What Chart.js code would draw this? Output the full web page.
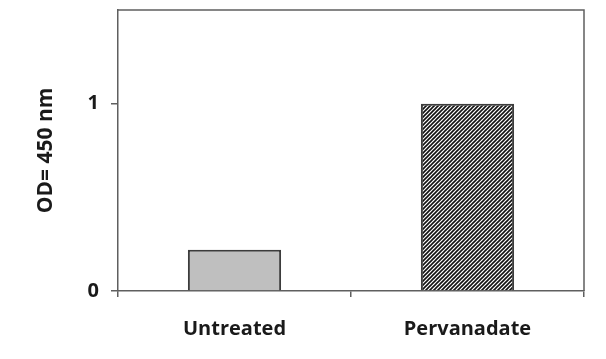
<!DOCTYPE html>
<html>
<head>
<meta charset="utf-8">
<script src="https://cdn.jsdelivr.net/npm/chart.js@4/dist/chart.umd.min.js"></script>
<style>
  html, body { margin: 0; padding: 0; background: #ffffff; }
  #wrap { width: 606px; height: 359px; position: relative; }
</style>
</head>
<body>
<div id="wrap"><canvas id="c" width="606" height="359"></canvas></div>
<script>
const categories = ["Untreated", "Pervanadate"];
const odValues = [0.22, 1.0];
const yTickValues = [0, 1];
const yAxisTitle = "OD= 450 nm";

function makeHatch() {
  const p = document.createElement('canvas');
  p.width = 4; p.height = 4;
  const g = p.getContext('2d');
  g.fillStyle = '#ffffff';
  g.fillRect(0, 0, 4, 4);
  g.strokeStyle = '#111111';
  g.lineWidth = 1.6;
  g.beginPath();
  g.moveTo(0, 4); g.lineTo(4, 0);
  g.moveTo(-1, 1); g.lineTo(1, -1);
  g.moveTo(3, 5); g.lineTo(5, 3);
  g.stroke();
  return document.getElementById('c').getContext('2d').createPattern(p, 'repeat');
}
const hatch = makeHatch();

const frame = {
  id: 'frame',
  afterDraw(chart) {
    const {ctx, chartArea: a} = chart;
    ctx.save();
    ctx.strokeStyle = '#5f5f5f';
    ctx.lineWidth = 1.5;
    ctx.beginPath();
    ctx.moveTo(a.left, a.top);
    ctx.lineTo(a.right, a.top);
    ctx.lineTo(a.right, a.bottom);
    ctx.stroke();
    ctx.restore();
  }
};

const font = { family: "'Open Sans', sans-serif", weight: 'bold', size: 20 };
const titleFont = { family: "'Open Sans', sans-serif", weight: 'bold', size: 21 };

new Chart(document.getElementById('c'), {
  type: 'bar',
  data: {
    labels: categories,
    datasets: [{
      data: odValues,
      backgroundColor: ['#bfbfbf', hatch],
      borderColor: '#3c3c3c',
      borderWidth: 2,
      borderSkipped: 'bottom',
      barPercentage: 0.4,
      categoryPercentage: 1.0
    }]
  },
  options: {
    responsive: false,
    animation: false,
    devicePixelRatio: 1,
    layout: { padding: { top: 10, right: 22, left: 0, bottom: 0 } },
    plugins: { legend: { display: false }, tooltip: { enabled: false } },
    scales: {
      x: {
        offset: true,
        grid: { offset: true, drawOnChartArea: false, drawTicks: true, tickLength: 6, color: '#5f5f5f', lineWidth: 1.5 },
        border: { display: true, color: '#5f5f5f', width: 1.5 },
        ticks: { color: '#1a1a1a', font: font, padding: 20 },
        afterFit(s) { s.height = 68; s.paddingLeft = 0; s.paddingRight = 0; }
      },
      y: {
        min: 0, max: 1.5,
        afterBuildTicks(s) { s.ticks = yTickValues.map(v => ({ value: v })); },
        grid: { drawOnChartArea: false, drawTicks: true, tickLength: 7, color: '#5f5f5f', lineWidth: 1.5 },
        border: { display: true, color: '#5f5f5f', width: 1.5 },
        ticks: { color: '#1a1a1a', font: font, padding: 12 },
        title: { display: true, text: yAxisTitle, color: '#1a1a1a', font: titleFont, padding: { top: 33, bottom: 0 } },
        afterFit(s) { s.width = 118; s.paddingTop = 0; s.paddingBottom = 0; }
      }
    }
  },
  plugins: [frame]
});
</script>
</body>
</html>
